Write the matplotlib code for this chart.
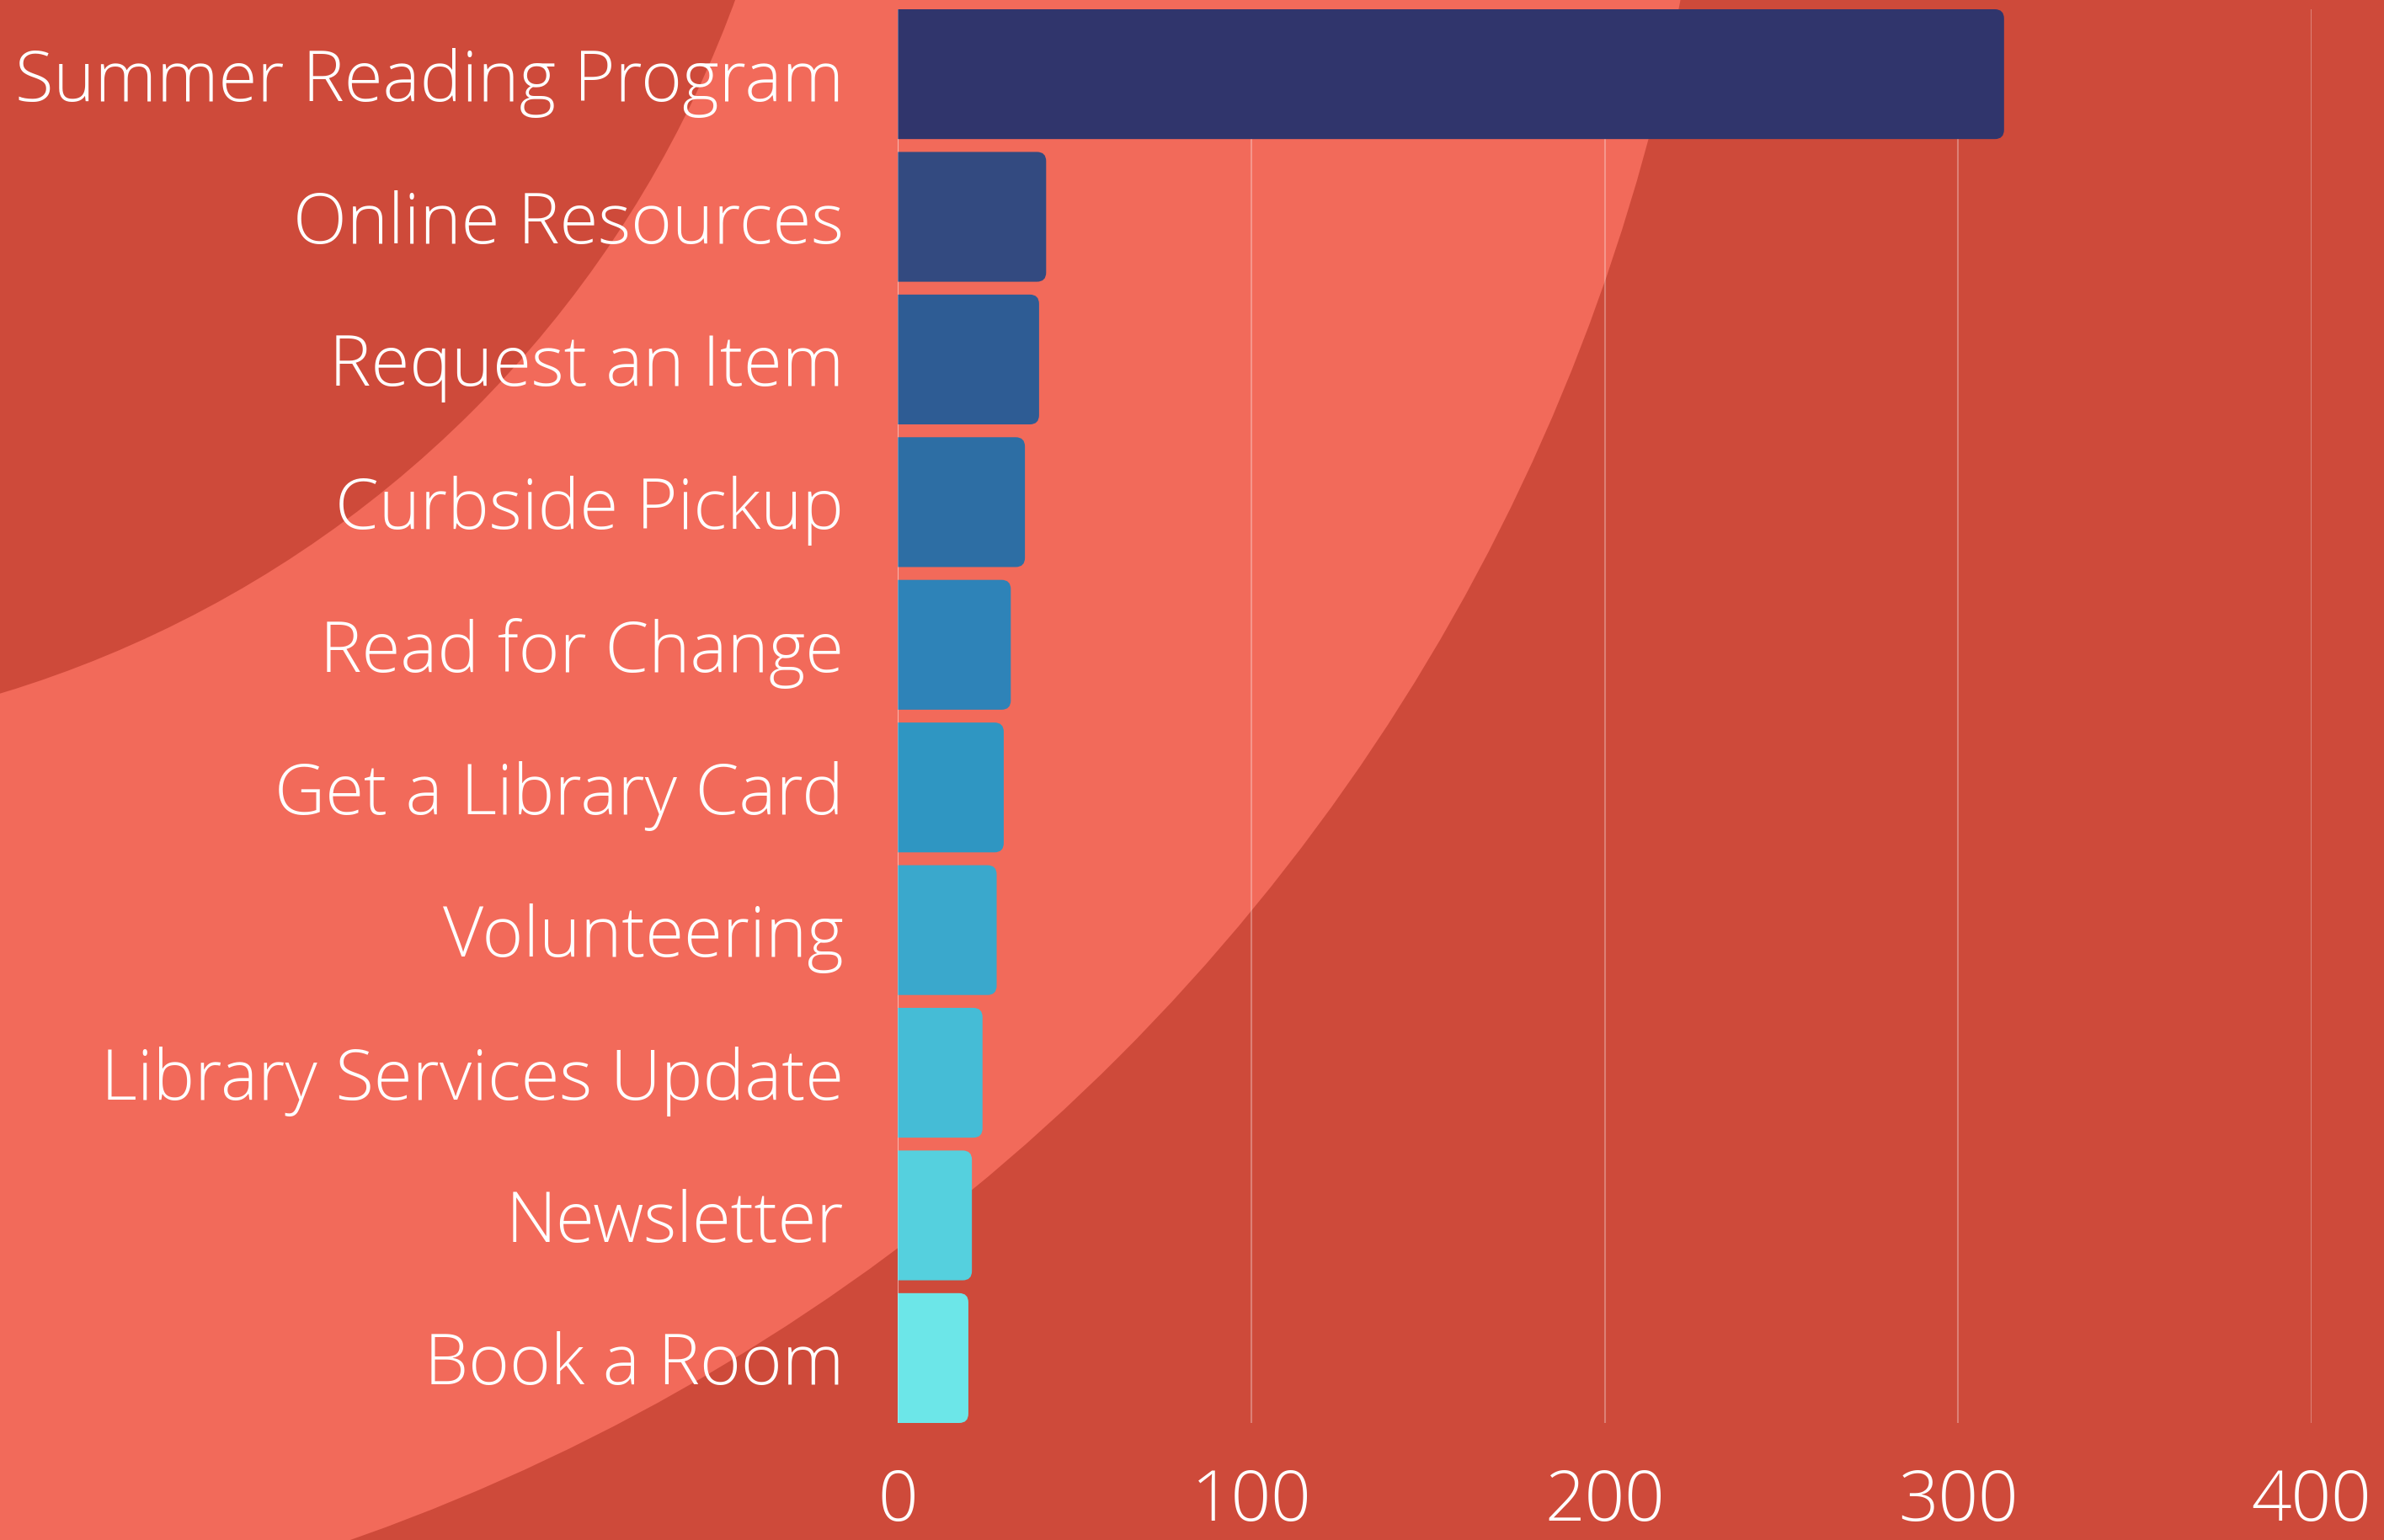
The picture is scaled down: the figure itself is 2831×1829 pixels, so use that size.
import matplotlib
matplotlib.use("Agg")
import matplotlib.pyplot as plt
from matplotlib.patches import Circle, PathPatch
from matplotlib.path import Path

# -----------------------------
# Data
# -----------------------------
categories = [
    "Summer Reading Program",
    "Online Resources",
    "Request an Item",
    "Curbside Pickup",
    "Read for Change",
    "Get a Library Card",
    "Volunteering",
    "Library Services Update",
    "Newsletter",
    "Book a Room",
]
values = [313, 42, 40, 36, 32, 30, 28, 24, 21, 20]
bar_colors = [
    "#30356c", "#334a80", "#2e5c94", "#2d6ea4", "#2e83b8",
    "#2f96c2", "#3aa8cc", "#45bcd6", "#55d0de", "#6ce6e8",
]
x_ticks = [0, 100, 200, 300, 400]

DARK = "#ce4a3a"
SALMON = "#f26a5a"
FONT = "Open Sans"

W, H = 2831, 1829
fig = plt.figure(figsize=(W / 100, H / 100), dpi=100)
fig.patch.set_facecolor(DARK)

# background ring (pixel coordinates in a full-figure axes)
bg = fig.add_axes([0, 0, 1, 1])
bg.set_xlim(0, W)
bg.set_ylim(H, 0)
bg.axis("off")
cx, cy = -388, -462
bg.add_patch(Circle((cx, cy), 2428, color=SALMON, lw=0))
bg.add_patch(Circle((cx, cy), 1343, color=DARK, lw=0))

# -----------------------------
# Bars
# -----------------------------
ax = fig.add_axes([1066 / W, 1 - 1690 / H, (2745 - 1066) / W, (1690 - 11) / H])
ax.set_facecolor("none")
ypos = list(range(len(categories)))
bars = ax.barh(ypos, values, height=0.91, color=bar_colors, zorder=3)
ax.set_xlim(0, 400)
ax.set_ylim(len(categories) - 0.545, -0.455)


def right_rounded(x0, y0, w, h, rx, ry):
    """Bar outline with only the right-hand corners rounded."""
    x1, y1 = x0 + w, y0 + h
    verts = [(x0, y0), (x1 - rx, y0), (x1, y0), (x1, y0 + ry),
             (x1, y1 - ry), (x1, y1), (x1 - rx, y1), (x0, y1), (x0, y0)]
    codes = [Path.MOVETO, Path.LINETO, Path.CURVE3, Path.CURVE3,
             Path.LINETO, Path.CURVE3, Path.CURVE3, Path.LINETO, Path.CLOSEPOLY]
    return Path(verts, codes)


r_x, r_y = 2.6, 0.065
for b, c in zip(bars, bar_colors):
    b.set_visible(False)
    p = right_rounded(b.get_x(), b.get_y(), b.get_width(), b.get_height(), r_x, r_y)
    ax.add_patch(PathPatch(p, fc=c, ec="none", zorder=3))

ax.set_xticks(x_ticks)
ax.set_xticklabels([str(t) for t in x_ticks])
ax.set_yticks(ypos)
ax.set_yticklabels(categories)
ax.grid(axis="x", color="white", alpha=0.3, linewidth=1.5, zorder=1)
ax.axvline(0, color="white", alpha=0.3, linewidth=1.5, zorder=4)
ax.tick_params(axis="both", length=0, colors="white")
ax.tick_params(axis="y", pad=46)
ax.tick_params(axis="x", pad=38)
for lbl in ax.get_xticklabels() + ax.get_yticklabels():
    lbl.set_fontfamily(FONT)
    lbl.set_fontweight("light")
    lbl.set_fontsize(60)
    lbl.set_color("white")
for s in ax.spines.values():
    s.set_visible(False)

fig.savefig("out.png", dpi=100, facecolor=DARK)
